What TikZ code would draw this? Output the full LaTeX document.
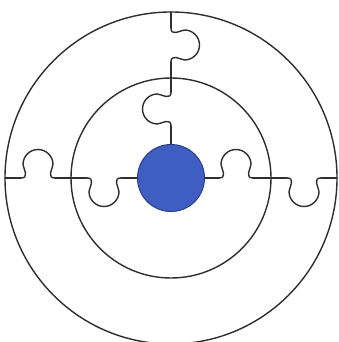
\documentclass[tikz,border=0pt]{standalone}
\usepackage{tikz}
\definecolor{hubblue}{HTML}{3F5EC2}
\definecolor{hubedge}{HTML}{2C3E8C}
\definecolor{inkgray}{HTML}{2E2E2E}
\tikzset{
  puzzle/.style={draw=inkgray,line width=1.4pt,line cap=round,line join=round},
  knob/.pic={
    \draw[puzzle] (-17,0) .. controls (-12.5,0) and (-12.5,2) .. (-12.5,5)
      .. controls (-12.5,8) and (-15,10) .. (-15,13.5)
      arc[start angle=180,end angle=0,radius=15]
      .. controls (15,10) and (12.5,8) .. (12.5,5)
      .. controls (12.5,2) and (12.5,0) .. (17,0);
  }
}
\begin{document}
\begin{tikzpicture}[x=1pt,y=1pt]
\useasboundingbox (0,0) rectangle (339,342);
\fill[white] (0,0) rectangle (339,342);
% hub
\node[circle,fill=hubblue,draw=hubedge,line width=1pt,
      minimum size=67pt,inner sep=0pt] (hub) at (171,164) {};
% rings
\draw[puzzle] (hub.center) circle (166);
\draw[puzzle] (hub.center) circle (100);
% horizontal cut
\draw[puzzle] (5,164) -- (21,164);
\draw[puzzle] (55,164) -- (87,164);
\draw[puzzle] (121,164) -- (hub.west);
\draw[puzzle] (hub.east) -- (219,164);
\draw[puzzle] (253,164) -- (287,164);
\draw[puzzle] (321,164) -- (337,164);
% vertical cut
\draw[puzzle] (hub.north) -- (171,216);
\draw[puzzle] (171,250) -- (171,280);
\draw[puzzle] (171,314) -- (171,330);
% tabs
\foreach \px/\py/\ang in {38/164/0, 104/164/180, 236/164/0, 304/164/180,
                          171/233/90, 171/297/-90}
  \pic[rotate=\ang] at (\px,\py) {knob};
\end{tikzpicture}
\end{document}
